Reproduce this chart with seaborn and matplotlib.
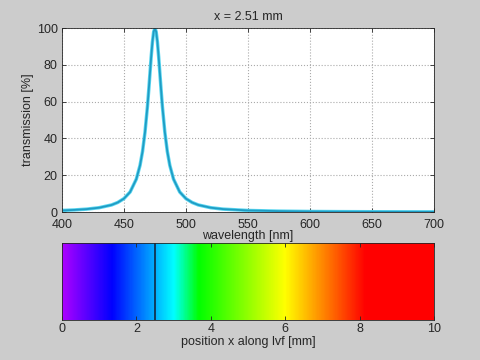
import numpy as np
import matplotlib
matplotlib.use("Agg")
import matplotlib.pyplot as plt
from matplotlib.colors import LinearSegmentedColormap
import seaborn as sns

# filter position and transmission curve
x_pos = 2.51
wavelength = [400, 410, 420, 430, 440, 445, 450, 455, 460, 463, 465, 467, 469,
              470, 471, 472, 473, 474, 475, 476, 477, 478, 479, 480, 481, 483,
              485, 487, 490, 495, 500, 505, 510, 520, 530, 550, 575, 600, 625,
              650, 675, 700]
transmission = [0.86, 1.15, 1.59, 2.36, 3.85, 5.2, 7.3, 10.9, 17.9, 25.4, 32.9,
                43.4, 57.6, 66.2, 75.4, 84.5, 92.5, 98.0, 100.0, 98.0, 92.5,
                84.5, 75.4, 66.2, 57.6, 43.4, 32.9, 25.4, 17.9, 10.9, 7.3, 5.2,
                3.85, 2.36, 1.59, 0.86, 0.49, 0.31, 0.22, 0.16, 0.12, 0.10]

# colour stops of the spectrum bar (position in mm, rgb)
stop_pos = [0.0, 1.33, 3.0, 3.67, 6.0, 8.17, 10.0]
stop_rgb = [(0.67, 0, 1), (0, 0, 1), (0, 1, 1), (0, 1, 0), (1, 1, 0), (1, 0, 0), (1, 0, 0)]

sns.set_style("ticks")
plt.rcParams['font.family'] = ['Liberation Sans', 'DejaVu Sans']
plt.rcParams['font.size'] = 9
plt.rcParams['xtick.direction'] = 'in'
plt.rcParams['ytick.direction'] = 'in'

bg = '#cccccc'
fig = plt.figure(figsize=(4.8, 3.6), dpi=100, facecolor=bg)

# top: transmission spectrum
ax = fig.add_axes([0.129, 0.411, 0.775, 0.511])
ax.set_facecolor('white')
sns.lineplot(x=wavelength, y=transmission, ax=ax, color='#5ad6f0', linewidth=2.5)
sns.lineplot(x=wavelength, y=transmission, ax=ax, color='#1f9cc4', linewidth=1.3)
ax.set_xlim(400, 700)
ax.set_ylim(0, 100)
ax.set_xticks(range(400, 701, 50))
ax.set_yticks(range(0, 101, 20))
ax.grid(True, linestyle=':', color='#aaaaaa', linewidth=0.8)
ax.tick_params(top=True, right=True, length=3, width=0.6, labelsize=9)
ax.tick_params(axis='x', pad=5)
ax.tick_params(axis='y', pad=3)
for s in ax.spines.values():
    s.set_linewidth(0.6)
ax.set_xlabel('wavelength [nm]', labelpad=-1)
ax.set_ylabel('transmission [%]', labelpad=2)
ax.set_title(f'x = {x_pos:.2f} mm', fontsize=9, pad=6)

# bottom: colour bar along the filter
cmap = LinearSegmentedColormap.from_list(
    'lvf', [(p / 10.0, c) for p, c in zip(stop_pos, stop_rgb)])
bx = fig.add_axes([0.129, 0.111, 0.775, 0.214])
bx.imshow(np.linspace(0, 1, 600)[None, :], aspect='auto', cmap=cmap,
          extent=[0, 10, 0, 1], interpolation='bilinear')
bx.axvline(x_pos, color='#142842', linewidth=1.2)
bx.set_xlim(0, 10)
bx.set_ylim(0, 1)
bx.set_xticks(range(0, 11, 2))
bx.set_yticks([])
bx.tick_params(top=True, length=3, width=0.6, pad=2, labelsize=9)
for s in bx.spines.values():
    s.set_linewidth(0.6)
bx.set_xlabel('position x along lvf [mm]', labelpad=1)

fig.savefig('out.png', dpi=100, facecolor=bg)
